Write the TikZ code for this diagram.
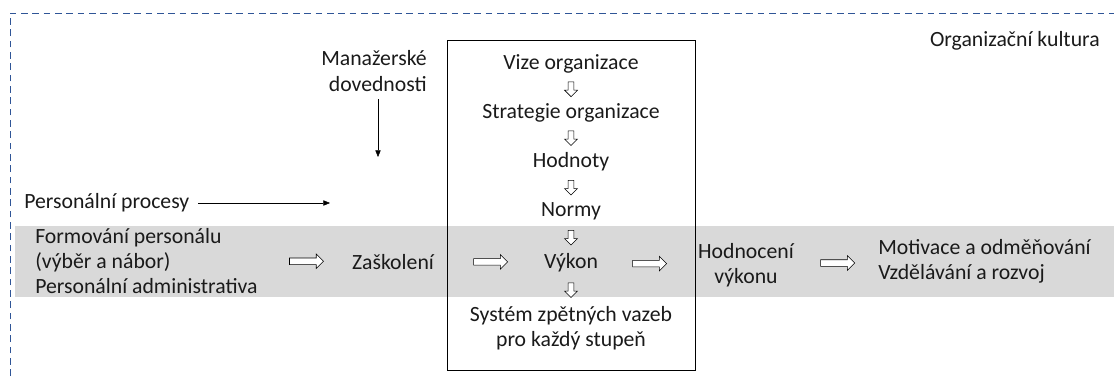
\documentclass[tikz,border=0pt]{standalone}
\usepackage{fontspec}
\setmainfont{Carlito}
\usetikzlibrary{arrows.meta,positioning,calc,shapes.arrows}
\definecolor{framecol}{HTML}{2F5597}
\definecolor{bandgray}{HTML}{D9D9D9}
\definecolor{txt}{HTML}{1A1A1A}

\tikzset{
  lbl/.style={inner sep=0pt,text=txt,font=\fontsize{16.3}{18.8}\selectfont},
  thinarrow/.style={thin,-{Triangle[length=5pt,width=4pt]}},
  hollowright/.style={single arrow,draw,fill=white,inner sep=0pt,
    text height=4.5pt,text depth=0pt,minimum height=25.5pt,
    single arrow head extend=3pt,thin},
  hollowdown/.style={single arrow,draw,fill=white,inner sep=0pt,
    text height=3.8pt,text depth=0pt,minimum height=11pt,
    single arrow head extend=2.7pt,rotate=-90,thin}
}

\begin{document}
\begin{tikzpicture}[x=0.75pt,y=-0.75pt]
  \useasboundingbox (0,0) rectangle (1114,376);
  % organisational culture frame and process band
  \draw[framecol,dashed,dash pattern=on 5pt off 3.5pt] (10,376) -- (10,13) -- (1114,13);
  \fill[bandgray] (15,226) rectangle (1114,297);
  \draw[thin] (447,40) rectangle (695,370);
  \node[lbl,anchor=base east] (kultura) at (1100,46) {Organizační kultura};

  % inputs from the left
  \node[lbl,align=right,anchor=east] (manaz) at (427,71) {Manažerské\\dovednosti};
  \coordinate (manazend) at (378,157);
  \draw[thinarrow] (manaz.south -| manazend) ++(0,8) -- (manazend);
  \node[lbl,anchor=base west] (procesy) at (24,208) {Personální procesy};
  \coordinate (procend) at (330,203);
  \draw[thinarrow] (procesy.east |- procend) ++(9,0) -- (procend);

  % the chain inside the box
  \node[lbl,anchor=base] (vize) at (571,69) {Vize organizace};
  \node[lbl,anchor=base] (strat) at (571,118) {Strategie organizace};
  \node[lbl,anchor=base] (hodnoty) at (571,167) {Hodnoty};
  \node[lbl,anchor=base] (normy) at (571,216) {Normy};
  \node[lbl,anchor=base] (vykon) at (571,268) {Výkon};
  \node[lbl,align=center] (system) at (571,328) {Systém zpětných vazeb\\pro každý stupeň};
  \node[hollowdown] at ($(vize.south)!0.5!(strat.north)$) {};
  \node[hollowdown] at ($(strat.south)!0.5!(hodnoty.north)$) {};
  \node[hollowdown] at ($(hodnoty.south)!0.5!(normy.north)$) {};
  \node[hollowdown] at ($(normy.south)!0.5!(vykon.north)$) {};
  \node[hollowdown] at ($(vykon.south)!0.5!(system.north)$) {};

  % the process band
  \node[lbl,align=left,anchor=west] (form) at (35,261) {Formování personálu\\(výběr a nábor)\\Personální administrativa};
  \node[lbl,anchor=base] (zask) at (393,269) {Zaškolení};
  \node[lbl,align=center] (hodn) at (746,265) {Hodnocení\\výkonu};
  \node[lbl,align=left,anchor=west] (motiv) at (878,261) {Motivace a odměňování\\Vzdělávání a rozvoj};
  \node[hollowright] at ($(form.east)!0.5!(zask.west)$) {};
  \node[hollowright] at ($(zask.east)!0.5!(vykon.west)$) {};
  \node[hollowright] at ($(vykon.east)!0.5!(hodn.west)$) {};
  \node[hollowright] at ($(hodn.east)!0.5!(motiv.west)$) {};
\end{tikzpicture}
\end{document}
